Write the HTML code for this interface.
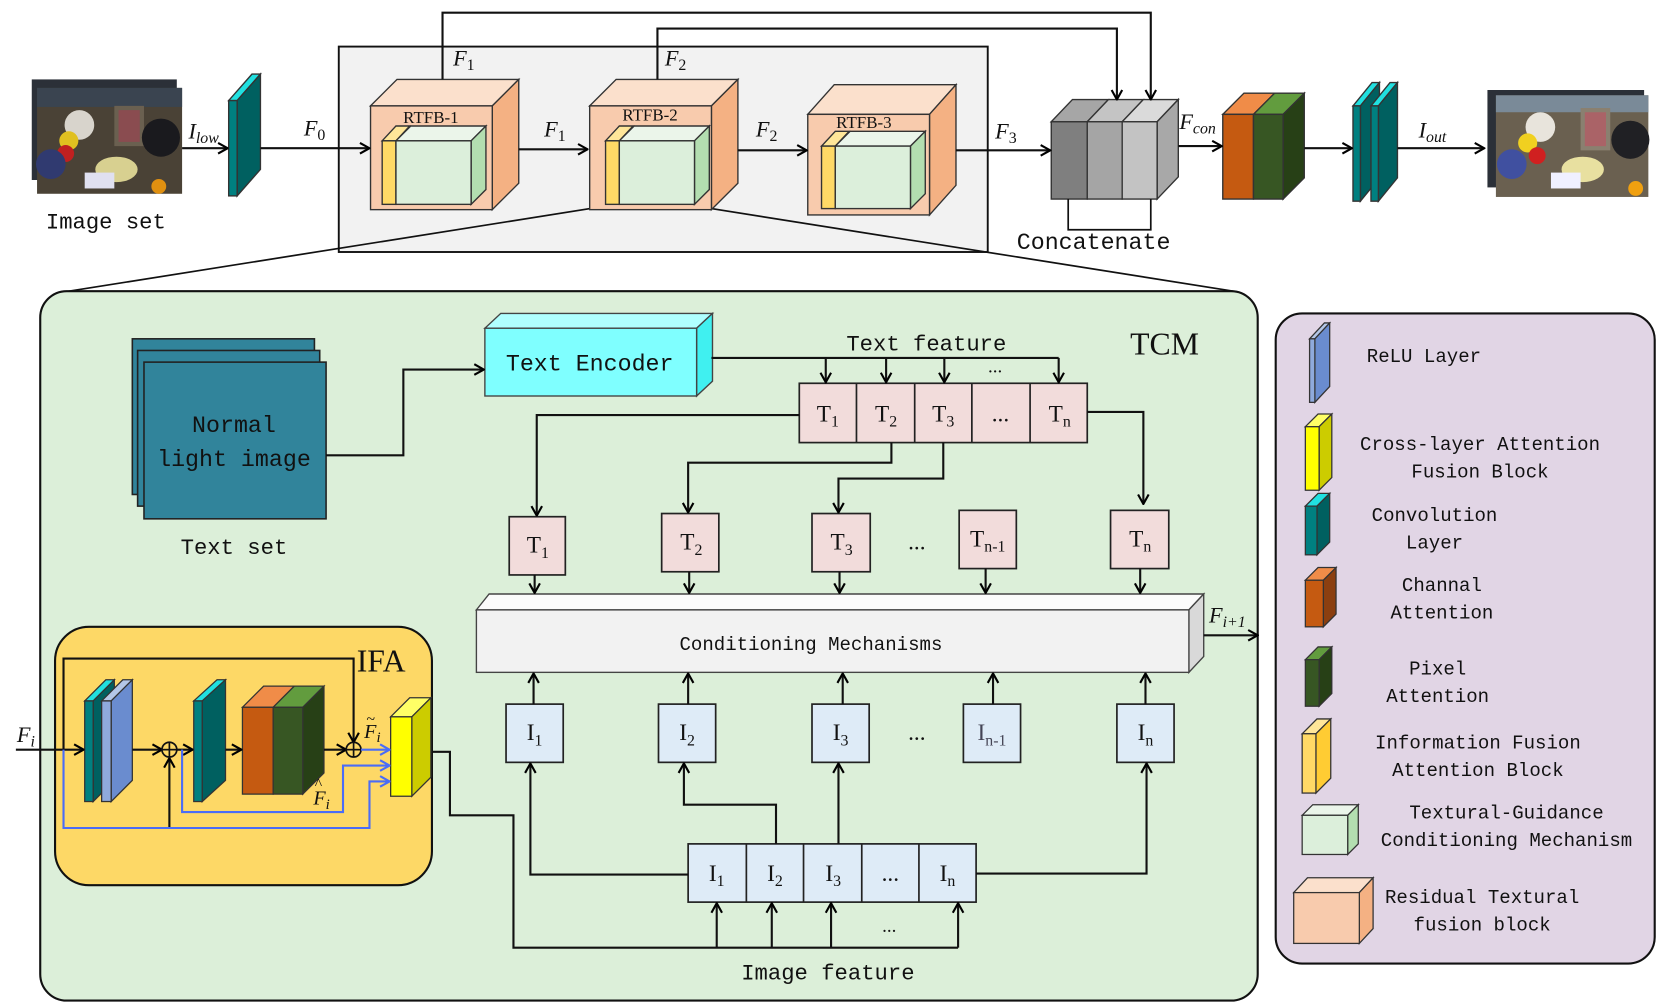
<!DOCTYPE html>
<html><head><meta charset="utf-8"><style>
html,body{margin:0;padding:0;background:#fff;}
svg{display:block;}
.m{font-family:"Liberation Mono","Noto Sans CJK SC",monospace;fill:#111;}
.s{font-family:"Liberation Serif",serif;font-style:italic;fill:#111;}
.r{font-family:"Liberation Serif",serif;fill:#111;}
</style></head><body>
<svg width="1660" height="1008" viewBox="0 0 1568 952" preserveAspectRatio="none" xmlns="http://www.w3.org/2000/svg">
<defs>
<marker id="a" viewBox="0 0 12 12" refX="11" refY="6" markerWidth="12" markerHeight="12" markerUnits="userSpaceOnUse" orient="auto"><polyline points="2,1 11,6 2,11" fill="none" stroke="#000" stroke-width="2"/></marker>
<marker id="b" viewBox="0 0 12 12" refX="11" refY="6" markerWidth="12" markerHeight="12" markerUnits="userSpaceOnUse" orient="auto"><polyline points="2,1 11,6 2,11" fill="none" stroke="#4a6cf7" stroke-width="2"/></marker>
</defs>
<g stroke="#333" stroke-width="1.3">
<!-- gray box -->
<rect x="320" y="44" width="613" height="194" fill="#f2f2f2" stroke="#111" stroke-width="1.8"/>
<!-- TCM box -->
<rect x="38" y="275" width="1150" height="670" rx="25" fill="#dcefd9" stroke="#111" stroke-width="2"/>
<!-- legend -->
<rect x="1205" y="296" width="358" height="614" rx="25" fill="#e1d5e5" stroke="#111" stroke-width="2"/>
<!-- IFA -->
<rect x="52" y="592" width="356" height="244" rx="32" fill="#fdd866" stroke="#111" stroke-width="2"/>
</g>
<!-- funnel lines -->
<g stroke="#111" stroke-width="1.6" fill="none">
<line x1="570" y1="195" x2="65" y2="275"/>
<line x1="672" y1="197" x2="1165" y2="275"/>
</g>
<!-- Image set photo -->
<rect x="30" y="75" width="137" height="95" fill="#2b3038"/>
<rect x="35" y="83" width="137" height="100" fill="#4a4236"/>
<rect x="35" y="83" width="137" height="18" fill="#3a4450"/>
<circle cx="75" cy="118" r="14" fill="#d8d4cc"/><circle cx="65" cy="133" r="9" fill="#e0c020"/><circle cx="62" cy="145" r="8" fill="#c02020"/>
<rect x="108" y="100" width="28" height="38" fill="#6a6050"/><rect x="112" y="104" width="20" height="30" fill="#a04050" opacity=".6"/>
<circle cx="152" cy="130" r="18" fill="#1a1a1e"/><ellipse cx="110" cy="160" rx="20" ry="12" fill="#d8d090"/><circle cx="48" cy="155" r="14" fill="#303a70"/>
<rect x="80" y="163" width="28" height="15" fill="#e0e0f0"/><circle cx="150" cy="176" r="7" fill="#e09010"/>
<!-- output photo -->
<rect x="1405" y="85" width="148" height="92" fill="#2b3038"/>
<rect x="1413" y="90" width="144" height="96" fill="#6a6050"/>
<rect x="1413" y="90" width="144" height="16" fill="#7a8a98"/>
<circle cx="1455" cy="120" r="14" fill="#e8e4dc"/><circle cx="1443" cy="135" r="9" fill="#f0d020"/><circle cx="1452" cy="147" r="8" fill="#d02020"/>
<rect x="1493" y="102" width="28" height="40" fill="#8a8070"/><rect x="1497" y="106" width="20" height="32" fill="#c05060" opacity=".6"/>
<circle cx="1540" cy="132" r="18" fill="#202024"/><ellipse cx="1495" cy="160" rx="20" ry="12" fill="#e8e0a0"/><circle cx="1428" cy="155" r="14" fill="#4050a0"/>
<rect x="1465" y="163" width="28" height="15" fill="#f0f0ff"/><circle cx="1545" cy="178" r="7" fill="#f0a010"/>
<text class="m" x="100" y="216" font-size="21" text-anchor="middle">Image set</text>

<g stroke="#333" stroke-width="1.3">
<!-- conv1 -->
<polygon points="216,95 238,70 246,70 224,95" fill="#20e0e0"/><polygon points="224,95 246,70 246,160 224,185" fill="#006060"/><rect x="216" y="95" width="8" height="90" fill="#008080"/>
<!-- RTFB1 -->
<polygon points="350,100 375,75 490,75 465,100" fill="#fbe0cc"/><polygon points="465,100 490,75 490,173 465,198" fill="#f4b183"/><rect x="350" y="100" width="115" height="98" fill="#f8cbad"/>
<polygon points="361,133 374,119 387,119 374,133" fill="#ffe699"/><rect x="361" y="133" width="13" height="60" fill="#ffd966"/>
<polygon points="374,133 388,119 459,119 445,133" fill="#ebf5ea"/><polygon points="445,133 459,119 459,179 445,193" fill="#b3deb0"/><rect x="374" y="133" width="71" height="60" fill="#dcefdb"/>
<!-- RTFB2 -->
<polygon points="557,100 582,75 697,75 672,100" fill="#fbe0cc"/><polygon points="672,100 697,75 697,173 672,198" fill="#f4b183"/><rect x="557" y="100" width="115" height="98" fill="#f8cbad"/>
<polygon points="572,133 585,119 598,119 585,133" fill="#ffe699"/><rect x="572" y="133" width="13" height="60" fill="#ffd966"/>
<polygon points="585,133 599,119 670,119 656,133" fill="#ebf5ea"/><polygon points="656,133 670,119 670,179 656,193" fill="#b3deb0"/><rect x="585" y="133" width="71" height="60" fill="#dcefdb"/>
<!-- RTFB3 -->
<polygon points="763,108 788,80 903,80 878,108" fill="#fbe0cc"/><polygon points="878,108 903,80 903,175 878,203" fill="#f4b183"/><rect x="763" y="108" width="115" height="95" fill="#f8cbad"/>
<polygon points="776,138 789,124 802,124 789,138" fill="#ffe699"/><rect x="776" y="138" width="13" height="59" fill="#ffd966"/>
<polygon points="789,138 803,124 874,124 860,138" fill="#ebf5ea"/><polygon points="860,138 874,124 874,183 860,197" fill="#b3deb0"/><rect x="789" y="138" width="71" height="59" fill="#dcefdb"/>
<!-- concat -->
<polygon points="993,115 1013,94 1047,94 1027,115" fill="#a6a6a6"/><polygon points="1027,115 1047,94 1080,94 1060,115" fill="#c4c4c4"/><polygon points="1060,115 1080,94 1113,94 1093,115" fill="#dadada"/>
<polygon points="1093,115 1113,94 1113,167 1093,188" fill="#a8a8a8"/>
<rect x="993" y="115" width="34" height="73" fill="#7f7f7f"/><rect x="1027" y="115" width="33" height="73" fill="#a5a5a5"/><rect x="1060" y="115" width="33" height="73" fill="#c3c3c3"/>
<!-- CA PA -->
<polygon points="1155,108 1175,88 1204,88 1184,108" fill="#f08c48"/><polygon points="1184,108 1204,88 1232,88 1212,108" fill="#629c3e"/>
<polygon points="1212,108 1232,88 1232,168 1212,188" fill="#274016"/>
<rect x="1155" y="108" width="29" height="80" fill="#c55a11"/><rect x="1184" y="108" width="28" height="80" fill="#375623"/>
<!-- two convs -->
<polygon points="1278,100 1296,78 1303,78 1285,100" fill="#20e0e0"/><polygon points="1285,100 1303,78 1303,168 1285,190" fill="#006060"/><rect x="1278" y="100" width="7" height="90" fill="#008080"/>
<polygon points="1295,100 1313,78 1320,78 1302,100" fill="#20e0e0"/><polygon points="1302,100 1320,78 1320,168 1302,190" fill="#006060"/><rect x="1295" y="100" width="7" height="90" fill="#008080"/>
</g>
<text class="r" x="407" y="116" font-size="16" text-anchor="middle">RTFB-1</text>
<text class="r" x="614" y="114" font-size="16" text-anchor="middle">RTFB-2</text>
<text class="r" x="816" y="121" font-size="16" text-anchor="middle">RTFB-3</text>
<!-- top arrows -->
<g stroke="#111" stroke-width="2" fill="none">
<line x1="172" y1="140" x2="215" y2="140" marker-end="url(#a)"/>
<line x1="246" y1="140" x2="349" y2="140" marker-end="url(#a)"/>
<line x1="490" y1="141" x2="555" y2="141" marker-end="url(#a)"/>
<line x1="697" y1="142" x2="762" y2="142" marker-end="url(#a)"/>
<line x1="903" y1="142" x2="992" y2="142" marker-end="url(#a)"/>
<line x1="1113" y1="138" x2="1154" y2="138" marker-end="url(#a)"/>
<line x1="1232" y1="140" x2="1277" y2="140" marker-end="url(#a)"/>
<line x1="1320" y1="140" x2="1402" y2="140" marker-end="url(#a)"/>
<polyline points="418,75 418,12 1087,12 1087,94" marker-end="url(#a)"/>
<polyline points="621,75 621,27 1055,27 1055,94" marker-end="url(#a)"/>
<polyline points="1009,188 1009,217 1087,217 1087,188" stroke-width="1.6"/>
</g>
<text class="s" x="178" y="131" font-size="21">I<tspan font-size="15" dy="4">low</tspan></text>
<text class="s" x="287" y="128" font-size="21">F<tspan font-style="normal" font-size="15" dy="4">0</tspan></text>
<text class="s" x="514" y="129" font-size="21">F<tspan font-style="normal" font-size="15" dy="4">1</tspan></text>
<text class="s" x="714" y="129" font-size="21">F<tspan font-style="normal" font-size="15" dy="4">2</tspan></text>
<text class="s" x="940" y="131" font-size="21">F<tspan font-style="normal" font-size="15" dy="4">3</tspan></text>
<text class="s" x="428" y="62" font-size="21">F<tspan font-style="normal" font-size="15" dy="4">1</tspan></text>
<text class="s" x="628" y="62" font-size="21">F<tspan font-style="normal" font-size="15" dy="4">2</tspan></text>
<text class="s" x="1114" y="122" font-size="21">F<tspan font-size="15" dy="4">con</tspan></text>
<text class="s" x="1340" y="130" font-size="21">I<tspan font-size="15" dy="4">out</tspan></text>
<text class="m" x="1033" y="235" font-size="22" text-anchor="middle">Concatenate</text>

<!-- TCM contents -->
<g stroke="#222" stroke-width="1.5">
<rect x="125" y="320" width="172" height="147" fill="#31849b"/>
<rect x="130" y="331" width="172" height="147" fill="#31849b"/>
<rect x="136" y="342" width="172" height="148" fill="#31849b"/>
</g>
<text class="m" x="221" y="408" font-size="22" text-anchor="middle">Normal</text>
<text class="m" x="221" y="440" font-size="22" text-anchor="middle">light image</text>
<text class="m" x="221" y="523" font-size="21" text-anchor="middle">Text set</text>
<text class="r" x="1100" y="335" font-size="30" text-anchor="middle">TCM</text>
<g stroke="#444" stroke-width="1.3">
<polygon points="458,310 473,296 673,296 658,310" fill="#b0ffff"/><polygon points="658,310 673,296 673,360 658,374" fill="#40f0f0"/><rect x="458" y="310" width="200" height="64" fill="#7fffff"/>
<polygon points="450,576 462,561 1137,561 1123,576" fill="#fbfbfb"/><polygon points="1123,576 1137,561 1137,620 1123,635" fill="#d9d9d9"/><rect x="450" y="576" width="673" height="59" fill="#f2f2f2"/>
</g>
<text class="m" x="557" y="350" font-size="22" text-anchor="middle">Text Encoder</text>
<text class="m" x="875" y="331" font-size="21" text-anchor="middle">Text feature</text>
<text class="m" x="766" y="614" font-size="18" text-anchor="middle">Conditioning Mechanisms</text>
<!-- T row -->
<g stroke="#222" stroke-width="1.6" fill="#f2dcdb">
<rect x="755" y="362" width="272" height="56"/>
<line x1="809" y1="362" x2="809" y2="418"/><line x1="864" y1="362" x2="864" y2="418"/><line x1="918" y1="362" x2="918" y2="418"/><line x1="973" y1="362" x2="973" y2="418"/>
<rect x="481" y="488" width="53" height="55"/><rect x="625" y="485" width="54" height="55"/><rect x="767" y="485" width="55" height="55"/><rect x="906" y="482" width="54" height="55"/><rect x="1049" y="482" width="55" height="55"/>
</g>
<g stroke="#222" stroke-width="1.6" fill="#deebf7">
<rect x="650" y="797" width="272" height="55"/>
<line x1="705" y1="797" x2="705" y2="852"/><line x1="759" y1="797" x2="759" y2="852"/><line x1="814" y1="797" x2="814" y2="852"/><line x1="868" y1="797" x2="868" y2="852"/>
<rect x="478" y="665" width="54" height="55"/><rect x="622" y="665" width="54" height="55"/><rect x="767" y="665" width="54" height="55"/><rect x="910" y="665" width="54" height="55"/><rect x="1055" y="665" width="54" height="55"/>
</g>
<g class="r" font-size="22" text-anchor="middle">
<text x="782" y="398">T<tspan font-size="15" dy="5">1</tspan></text>
<text x="837" y="398">T<tspan font-size="15" dy="5">2</tspan></text>
<text x="891" y="398">T<tspan font-size="15" dy="5">3</tspan></text>
<text x="945" y="398">...</text>
<text x="1001" y="398">T<tspan font-size="15" dy="5">n</tspan></text>
<text x="508" y="522">T<tspan font-size="15" dy="5">1</tspan></text>
<text x="653" y="519">T<tspan font-size="15" dy="5">2</tspan></text>
<text x="795" y="519">T<tspan font-size="15" dy="5">3</tspan></text>
<text x="866" y="519">...</text>
<text x="933" y="516">T<tspan font-size="15" dy="5">n-1</tspan></text>
<text x="1077" y="516">T<tspan font-size="15" dy="5">n</tspan></text>
<text x="505" y="699">I<tspan font-size="15" dy="5">1</tspan></text>
<text x="649" y="699">I<tspan font-size="15" dy="5">2</tspan></text>
<text x="794" y="699">I<tspan font-size="15" dy="5">3</tspan></text>
<text x="866" y="699">...</text>
<text x="937" y="699" fill="#445">I<tspan font-size="15" dy="5">n-1</tspan></text>
<text x="1082" y="699">I<tspan font-size="15" dy="5">n</tspan></text>
<text x="677" y="832">I<tspan font-size="15" dy="5">1</tspan></text>
<text x="732" y="832">I<tspan font-size="15" dy="5">2</tspan></text>
<text x="787" y="832">I<tspan font-size="15" dy="5">3</tspan></text>
<text x="841" y="832">...</text>
<text x="895" y="832">I<tspan font-size="15" dy="5">n</tspan></text>
<text x="940" y="352" font-size="18">...</text>
<text x="840" y="880" font-size="18">...</text>
</g>
<text class="m" x="782" y="925" font-size="21" text-anchor="middle">Image feature</text>
<text class="s" x="1142" y="588" font-size="21">F<tspan font-size="15" dy="4">i+1</tspan></text>
<g stroke="#111" stroke-width="2" fill="none">
<polyline points="308,430 381,430 381,349 457,349" marker-end="url(#a)"/>
<line x1="672" y1="338" x2="1000" y2="338"/>
<line x1="780" y1="338" x2="780" y2="361" marker-end="url(#a)"/>
<line x1="837" y1="338" x2="837" y2="361" marker-end="url(#a)"/>
<line x1="892" y1="338" x2="892" y2="361" marker-end="url(#a)"/>
<line x1="1000" y1="338" x2="1000" y2="361" marker-end="url(#a)"/>
<polyline points="755,392 507,392 507,487" marker-end="url(#a)"/>
<polyline points="842,418 842,437 650,437 650,484" marker-end="url(#a)"/>
<polyline points="891,418 891,452 792,452 792,484" marker-end="url(#a)"/>
<polyline points="1027,389 1080,389 1080,476" marker-end="url(#a)"/>
<line x1="505" y1="543" x2="505" y2="560" marker-end="url(#a)"/>
<line x1="651" y1="540" x2="651" y2="560" marker-end="url(#a)"/>
<line x1="793" y1="540" x2="793" y2="560" marker-end="url(#a)"/>
<line x1="931" y1="537" x2="931" y2="560" marker-end="url(#a)"/>
<line x1="1077" y1="537" x2="1077" y2="560" marker-end="url(#a)"/>
<line x1="1137" y1="600" x2="1188" y2="600" marker-end="url(#a)"/>
<line x1="504" y1="665" x2="504" y2="636" marker-end="url(#a)"/>
<line x1="650" y1="665" x2="650" y2="636" marker-end="url(#a)"/>
<line x1="796" y1="665" x2="796" y2="636" marker-end="url(#a)"/>
<line x1="938" y1="665" x2="938" y2="636" marker-end="url(#a)"/>
<line x1="1082" y1="665" x2="1082" y2="636" marker-end="url(#a)"/>
<polyline points="650,826 501,826 501,721" marker-end="url(#a)"/>
<polyline points="733,797 733,760 646,760 646,721" marker-end="url(#a)"/>
<line x1="792" y1="797" x2="792" y2="721" marker-end="url(#a)"/>
<polyline points="922,825 1083,825 1083,721" marker-end="url(#a)"/>
<polyline points="408,710 425,710 425,770 485,770 485,895 905,895"/>
<line x1="677" y1="895" x2="677" y2="853" marker-end="url(#a)"/>
<line x1="729" y1="895" x2="729" y2="853" marker-end="url(#a)"/>
<line x1="785" y1="895" x2="785" y2="853" marker-end="url(#a)"/>
<line x1="905" y1="895" x2="905" y2="853" marker-end="url(#a)"/>
</g>
<!-- IFA -->
<g stroke="#333" stroke-width="1.2">
<polygon points="80,662 100,642 108,642 88,662" fill="#20e0e0"/><polygon points="88,662 108,642 108,737 88,757" fill="#006060"/><rect x="80" y="662" width="8" height="95" fill="#008080"/>
<polygon points="96,662 116,642 125,642 105,662" fill="#b4c7e7"/><polygon points="105,662 125,642 125,737 105,757" fill="#6a8ccf"/><rect x="96" y="662" width="9" height="95" fill="#8faadc"/>
<polygon points="183,662 205,642 213,642 191,662" fill="#20e0e0"/><polygon points="191,662 213,642 213,737 191,757" fill="#006060"/><rect x="183" y="662" width="8" height="95" fill="#008080"/>
<polygon points="229,668 249,648 278,648 258,668" fill="#f08c48"/><polygon points="258,668 278,648 306,648 286,668" fill="#629c3e"/>
<polygon points="286,668 306,648 306,730 286,750" fill="#274016"/>
<rect x="229" y="668" width="29" height="82" fill="#c55a11"/><rect x="258" y="668" width="28" height="82" fill="#375623"/>
<polygon points="369,677 387,659 407,659 389,677" fill="#ffff66"/><polygon points="389,677 407,659 407,734 389,752" fill="#cccc00"/><rect x="369" y="677" width="20" height="75" fill="#ffff00"/>
</g>
<text class="r" x="360" y="634" font-size="30" text-anchor="middle">IFA</text>
<g stroke="#111" stroke-width="2" fill="none">
<line x1="15" y1="708" x2="79" y2="708" marker-end="url(#a)"/>
<polyline points="60,708 60,622 334,622 334,701" marker-end="url(#a)"/>
<line x1="125" y1="708" x2="153" y2="708" marker-end="url(#a)"/>
<line x1="167" y1="708" x2="182" y2="708" marker-end="url(#a)"/>
<line x1="213" y1="708" x2="228" y2="708" marker-end="url(#a)"/>
<line x1="306" y1="708" x2="327" y2="708" marker-end="url(#a)"/>
<line x1="160" y1="782" x2="160" y2="716" marker-end="url(#a)"/>
<circle cx="160" cy="708" r="7" stroke-width="1.6"/><line x1="153" y1="708" x2="167" y2="708" stroke-width="1.6"/><line x1="160" y1="701" x2="160" y2="715" stroke-width="1.6"/>
<circle cx="334" cy="708" r="7" stroke-width="1.6"/><line x1="327" y1="708" x2="341" y2="708" stroke-width="1.6"/><line x1="334" y1="701" x2="334" y2="715" stroke-width="1.6"/>
</g>
<g stroke="#4a6cf7" stroke-width="2" fill="none">
<polyline points="60,708 60,782 349,782 349,738 368,738" marker-end="url(#b)"/>
<polyline points="172,708 172,767 324,767 324,723 368,723" marker-end="url(#b)"/>
<line x1="341" y1="708" x2="368" y2="708" marker-end="url(#b)"/>
</g>
<text class="s" x="16" y="701" font-size="21">F<tspan font-size="15" dy="4">i</tspan></text>
<text class="s" x="344" y="697" font-size="19">F<tspan font-size="14" dy="4">i</tspan></text>
<text class="s" x="346" y="684" font-size="15">~</text>
<text class="s" x="296" y="760" font-size="19">F<tspan font-size="14" dy="4">i</tspan></text>
<text class="s" x="297" y="745" font-size="15">^</text>

<!-- legend icons -->
<g stroke="#333" stroke-width="1.2">
<polygon points="1237,320 1251,305 1256,305 1242,320" fill="#b4c7e7"/><polygon points="1242,320 1256,305 1256,365 1242,380" fill="#6a8ccf"/><rect x="1237" y="320" width="5" height="60" fill="#8faadc"/>
<polygon points="1233,403 1245,391 1258,391 1246,403" fill="#ffff66"/><polygon points="1246,403 1258,391 1258,451 1246,463" fill="#cccc00"/><rect x="1233" y="403" width="13" height="60" fill="#ffff00"/>
<polygon points="1233,478 1245,466 1256,466 1244,478" fill="#20e0e0"/><polygon points="1244,478 1256,466 1256,512 1244,524" fill="#006060"/><rect x="1233" y="478" width="11" height="46" fill="#008080"/>
<polygon points="1233,548 1245,536 1262,536 1250,548" fill="#f08c48"/><polygon points="1250,548 1262,536 1262,580 1250,592" fill="#8b3f10"/><rect x="1233" y="548" width="17" height="44" fill="#c55a11"/>
<polygon points="1233,623 1245,611 1258,611 1246,623" fill="#629c3e"/><polygon points="1246,623 1258,611 1258,655 1246,667" fill="#274016"/><rect x="1233" y="623" width="13" height="44" fill="#375623"/>
<polygon points="1230,693 1244,679 1257,679 1243,693" fill="#ffe699"/><polygon points="1243,693 1257,679 1257,735 1243,749" fill="#ffcc33"/><rect x="1230" y="693" width="13" height="56" fill="#ffd966"/>
<polygon points="1230,770 1240,760 1283,760 1273,770" fill="#ebf5ea"/><polygon points="1273,770 1283,760 1283,797 1273,807" fill="#b3deb0"/><rect x="1230" y="770" width="43" height="37" fill="#dcefdb"/>
<polygon points="1222,843 1235,829 1297,829 1284,843" fill="#fbe0cc"/><polygon points="1284,843 1297,829 1297,877 1284,891" fill="#f4b183"/><rect x="1222" y="843" width="62" height="48" fill="#f8cbad"/>
</g>
<g class="m" font-size="18" text-anchor="middle">
<text x="1345" y="342">ReLU Layer</text>
<text x="1398" y="425">Cross-layer Attention</text>
<text x="1398" y="451">Fusion Block</text>
<text x="1355" y="492">Convolution</text>
<text x="1355" y="518">Layer</text>
<text x="1362" y="558">Channal</text>
<text x="1362" y="584">Attention</text>
<text x="1358" y="637">Pixel</text>
<text x="1358" y="663">Attention</text>
<text x="1396" y="707">Information Fusion</text>
<text x="1396" y="733">Attention Block</text>
<text x="1423" y="773">Textural-Guidance</text>
<text x="1423" y="799">Conditioning Mechanism</text>
<text x="1400" y="853">Residual Textural</text>
<text x="1400" y="879">fusion block</text>
</g>
</svg>
</body></html>
